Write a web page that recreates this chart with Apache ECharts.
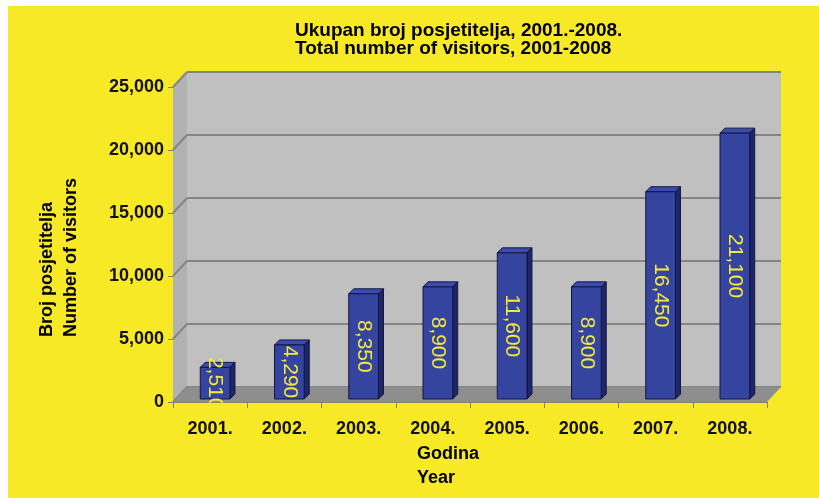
<!DOCTYPE html>
<html>
<head>
<meta charset="utf-8">
<script src="https://cdn.jsdelivr.net/npm/echarts@6/dist/echarts.min.js"></script>
<style>
    html, body { margin: 0; padding: 0; background: #fff; }
    #chart { position: absolute; left: 8px; top: 6px; width: 811px; height: 492px; }
</style>
</head>
<body>
<div id="chart"></div>
<script>
var years = ["2001.", "2002.", "2003.", "2004.", "2005.", "2006.", "2007.", "2008."];
var visitors = [2510, 4290, 8350, 8900, 11600, 8900, 16450, 21100];
var yTicks = [0, 5000, 10000, 15000, 20000, 25000];

var titleLines = ["Ukupan broj posjetitelja, 2001.-2008.", "Total number of visitors, 2001-2008"];
var xName = ["Godina", "Year"];
var yName = ["Broj posjetitelja", "Number of visitors"];

var font = "'Liberation Sans', Arial, sans-serif";
var depthX = 14, depthY = -15;   // depth of the walls
var barDepth = 5;

var myChart = echarts.init(document.getElementById("chart"));

function fmt(v){
    return Number(v).toLocaleString("en-US");
}

// floor + left side wall, drawn from the grid rect
function renderWalls(params, api){
    var r = params.coordSys;
    var x0 = r.x, x1 = r.x + r.width, yt = r.y, yb = r.y + r.height;
    var children = [];

    children.push({
        type: "polygon",
        shape: { points: [[x0, yt], [x0 + depthX, yt + depthY], [x0 + depthX, yb + depthY], [x0, yb]] },
        style: { fill: "#b2b2b2" }
    });
    for(var i = 0; i < yTicks.length; i++){
        var y = api.coord([0, yTicks[i]])[1];
        children.push({
            type: "line",
            shape: { x1: x0, y1: y, x2: x0 + depthX, y2: y + depthY },
            style: { stroke: "#858585", lineWidth: 2 }
        });
    }
    children.push({
        type: "polygon",
        shape: { points: [[x0, yb], [x1, yb], [x1 + depthX, yb + depthY], [x0 + depthX, yb + depthY]] },
        style: { fill: "#8e8e8e" }
    });
    return { type: "group", children: children };
}

function renderBar(params, api){
    var base = api.coord([api.value(0), 0]);
    var top = api.coord([api.value(0), api.value(1)]);
    var w = api.size([1, 0])[0] * 0.4;
    var l = base[0] - w / 2 + 5, r = l + w;
    var b = base[1] - 3, t = top[1] - 3;
    var d = barDepth;
    var edge = "#15163e";

    return {
        type: "group",
        children: [
            {
                type: "polygon",
                shape: { points: [[l, t], [r, t], [r + d, t - d], [l + d, t - d]] },
                style: { fill: "#3b4bb0", stroke: edge, lineWidth: 1 }
            },
            {
                type: "polygon",
                shape: { points: [[r, t], [r + d, t - d], [r + d, b - d], [r, b]] },
                style: { fill: "#1d2668", stroke: edge, lineWidth: 1 }
            },
            {
                type: "rect",
                shape: { x: l, y: t, width: w, height: b - t },
                style: { fill: "#34449f", stroke: edge, lineWidth: 1 }
            },
            {
                type: "text",
                x: (l + r) / 2,
                y: (t + b) / 2,
                rotation: -Math.PI / 2,
                style: {
                    text: fmt(api.value(1)),
                    fill: "#f4e83c",
                    font: "21px " + font,
                    align: "center",
                    verticalAlign: "middle",
                    textAlign: "center",
                    textVerticalAlign: "middle"
                }
            }
        ]
    };
}

var barData = [];
for(var i = 0; i < years.length; i++){
    barData.push([i, visitors[i]]);
}

var option = {
    backgroundColor: "#f8e926",
    animation: false,
    title: {
        text: titleLines.join("\n"),
        left: 287,
        top: 16,
        padding: 0,
        textStyle: { fontFamily: font, fontSize: 19, fontWeight: "bold", color: "#000", lineHeight: 18 }
    },
    grid: [
        { left: 165, right: 52, top: 81, bottom: 96 },
        { left: 179, right: 38, top: 66, bottom: 111, show: true, backgroundColor: "#c0c0c0", borderWidth: 0 }
    ],
    xAxis: [
        {
            type: "category",
            gridIndex: 0,
            data: years,
            axisLine: { lineStyle: { color: "#808080", width: 1 } },
            axisTick: { show: true, length: 6, lineStyle: { color: "#808080" } },
            axisLabel: { margin: 18, color: "#111", fontFamily: font, fontSize: 18, fontWeight: "bold" }
        },
        {
            type: "category",
            gridIndex: 1,
            data: years,
            show: false
        }
    ],
    yAxis: [
        {
            type: "value",
            gridIndex: 0,
            min: 0,
            max: 25000,
            interval: 5000,
            axisLine: { show: true, lineStyle: { color: "#808080" } },
            axisTick: { show: true, length: 5, lineStyle: { color: "#808080" } },
            splitLine: { show: false },
            axisLabel: {
                margin: 9,
                color: "#111",
                fontFamily: font,
                fontSize: 18,
                fontWeight: "bold",
                formatter: function(v){ return fmt(v); }
            }
        },
        {
            type: "value",
            gridIndex: 1,
            min: 0,
            max: 25000,
            interval: 5000,
            axisLine: { show: false },
            axisTick: { show: false },
            axisLabel: { show: false },
            splitLine: { show: true, lineStyle: { color: "#858585", width: 2 } }
        }
    ],
    graphic: [
        {
            type: "text",
            x: 51,
            y: 331,
            rotation: Math.PI / 2,
            style: {
                text: yName.join("\n"),
                font: "bold 18px " + font,
                fill: "#000",
                lineHeight: 24,
                align: "left",
                verticalAlign: "middle",
                textAlign: "left",
                textVerticalAlign: "middle"
            }
        },
        {
            type: "text",
            x: 409,
            y: 436,
            style: {
                text: xName.join("\n"),
                font: "bold 18px " + font,
                fill: "#000",
                lineHeight: 24,
                align: "left",
                verticalAlign: "top",
                textAlign: "left",
                textVerticalAlign: "top"
            }
        }
    ],
    series: [
        {
            type: "custom",
            xAxisIndex: 0,
            yAxisIndex: 0,
            z: 1,
            silent: true,
            renderItem: renderWalls,
            data: [[0, 0]]
        },
        {
            type: "custom",
            name: "Number of visitors",
            xAxisIndex: 0,
            yAxisIndex: 0,
            z: 3,
            renderItem: renderBar,
            encode: { x: 0, y: 1 },
            data: barData
        }
    ]
};

myChart.setOption(option);
window.onresize = myChart.resize;
</script>
</body>
</html>
